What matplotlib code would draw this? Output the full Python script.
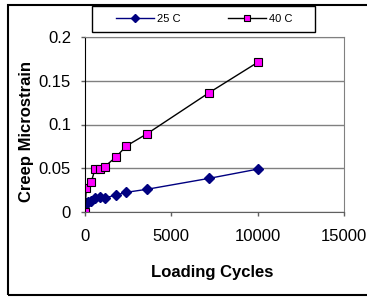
import matplotlib.pyplot as plt
from matplotlib.patches import Rectangle

plt.rcParams['font.family'] = ['Liberation Sans', 'DejaVu Sans']

# data
cycles_25 = [0, 72, 180, 360, 576, 864, 1152, 1800, 2400, 3600, 7200, 10000]
strain_25 = [0.008, 0.010, 0.012, 0.013, 0.016, 0.017, 0.016, 0.0195, 0.0225, 0.026, 0.0385, 0.049]
cycles_40 = [0, 72, 360, 576, 864, 1152, 1800, 2400, 3600, 7200, 10000]
strain_40 = [0.0, 0.027, 0.034, 0.049, 0.049, 0.052, 0.063, 0.0755, 0.0895, 0.1365, 0.171]

W, H = 367, 297
fig = plt.figure(figsize=(W/100, H/100), dpi=100)
ax = fig.add_axes([85/W, 1 - 212/H, (344-85)/W, (212-37)/H])

ax.plot(cycles_25, strain_25, color="#000080", marker="D", markersize=5.5,
        markerfacecolor="#000080", markeredgecolor="#000080", linewidth=1, label="25 C")
ax.plot(cycles_40, strain_40, color="black", marker="s", markersize=6,
        markerfacecolor="#FF00FF", markeredgecolor="black", markeredgewidth=0.8,
        linewidth=1, label="40 C")

ax.set_xlim(0, 15000)
ax.set_ylim(0, 0.2)
ax.set_xticks([0, 5000, 10000, 15000])
ax.set_yticks([0, 0.05, 0.1, 0.15, 0.2])
ax.set_yticklabels(["0", "0.05", "0.1", "0.15", "0.2"])
ax.tick_params(labelsize=12, direction="out", length=3, width=1, color="#606060")
ax.tick_params(axis="x", pad=9)
ax.tick_params(axis="y", pad=7)
ax.yaxis.grid(True, color="#808080", linewidth=1)
ax.set_axisbelow(True)
for s in ["top", "right"]:
    ax.spines[s].set_color("#808080")
ax.spines["left"].set_color("black")
ax.spines["bottom"].set_color("#606060")

ax.set_xlabel("Loading Cycles", fontsize=12, fontweight="bold")
ax.set_ylabel("Creep Microstrain", fontsize=12, fontweight="bold")
ax.xaxis.set_label_coords(0.49, -(272-212)/(212-37), transform=ax.transAxes)
ax.xaxis.label.set_verticalalignment("center")
ax.yaxis.set_label_coords((26-85)/(344-85), (212-131)/(212-37), transform=ax.transAxes)
ax.yaxis.label.set_verticalalignment("center")

leg = fig.legend(loc="center left", ncol=2, bbox_to_anchor=(116/W, 1 - 19/H),
                 fontsize=8, frameon=False, handlelength=3.4, handletextpad=0.27,
                 columnspacing=4.3, borderpad=0, borderaxespad=0, markerscale=0.7)
# legend frame
fig.patches.append(Rectangle((92/W, 1 - 32/H), (315-92)/W, 26/H, transform=fig.transFigure,
                             fill=False, edgecolor="black", linewidth=1))

# outer chart border
fig.patches.append(Rectangle((8/W, 1 - 295/H), 1.5, (295-5)/H, transform=fig.transFigure,
                             fill=False, edgecolor="black", linewidth=1.5))

fig.savefig("out.png", dpi=100)
